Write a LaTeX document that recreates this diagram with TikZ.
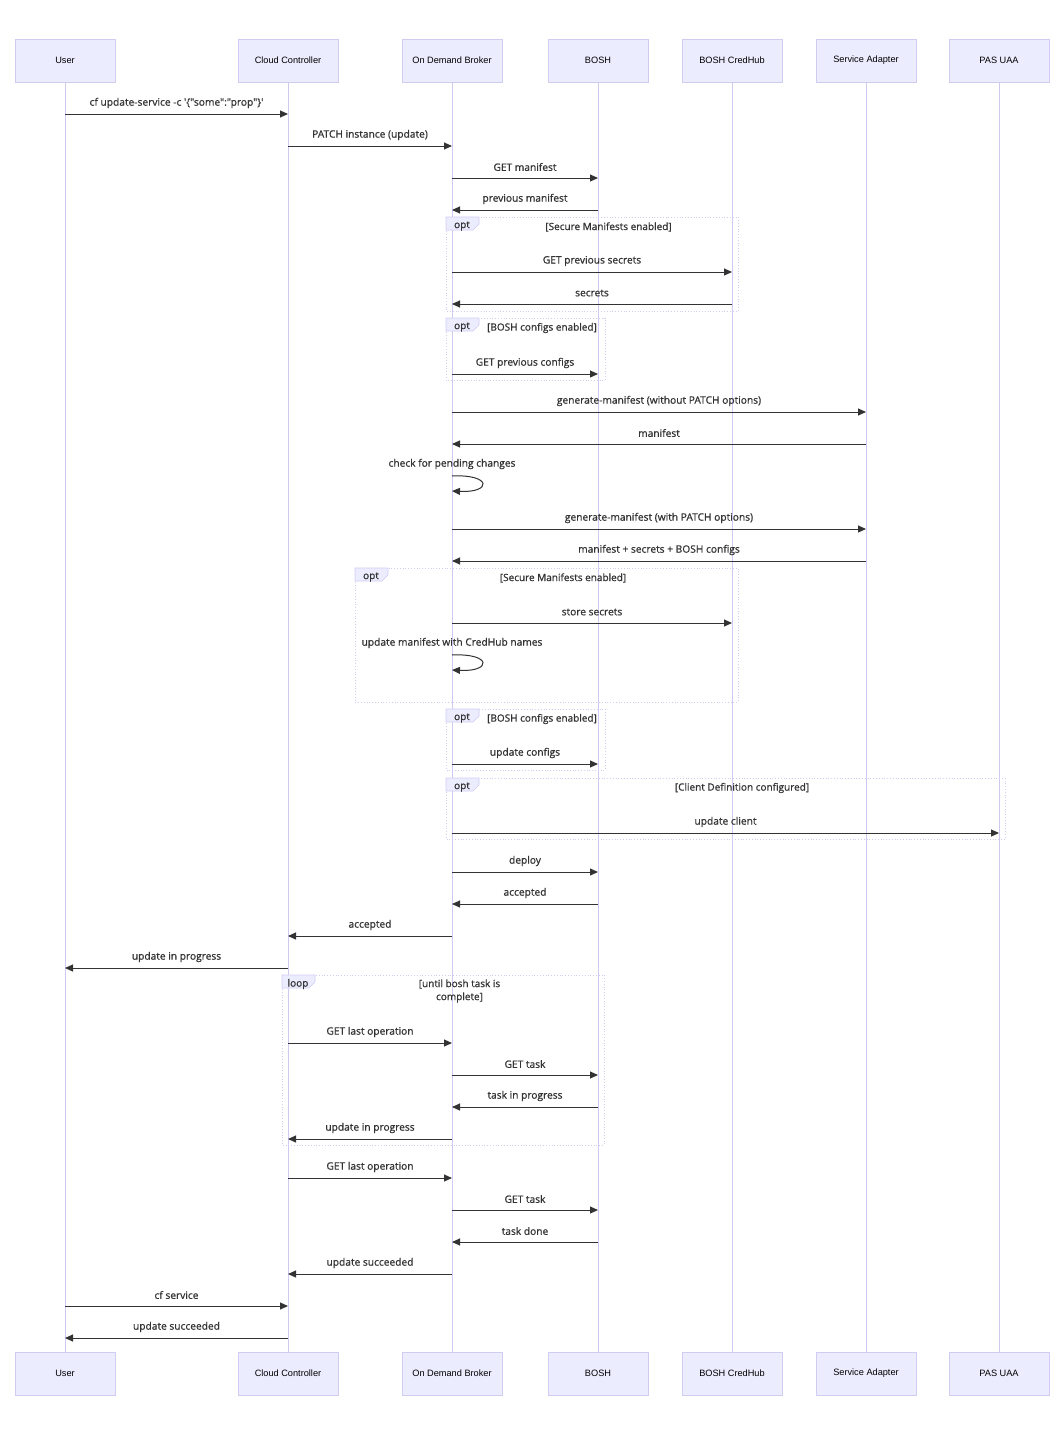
\documentclass[tikz,border=0pt]{standalone}
\usepackage{fontspec}
\setmainfont{Open Sans}
\newfontfamily\actorfont{Liberation Sans}
\newfontfamily\msgfont[FakeBold=0.9]{Open Sans}
\usetikzlibrary{arrows.meta,calc}
\definecolor{actfill}{HTML}{ECECFF}
\definecolor{actline}{HTML}{D2CCF2}
\definecolor{lifecol}{HTML}{D0C9F2}
\definecolor{ink}{HTML}{333333}
\tikzset{
  actor/.style={draw=actline, fill=actfill, line width=0.8pt, minimum width=100pt, minimum height=43pt, inner sep=0pt, font=\actorfont\fontsize{9.2}{11}\selectfont, text=black},
  life/.style={draw=lifecol, line width=1pt},
  msgarrow/.style={draw=ink, line width=1pt, -{Triangle[length=8pt,width=7pt]}},
  msglabel/.style={font=\msgfont\fontsize{10.2}{12}\selectfont, text=ink, inner sep=0pt},
  fragline/.style={draw=actline, line width=0.8pt, dotted},
  tabstyle/.style={draw=actline, fill=actfill, line width=0.6pt},
  fragkind/.style={font=\msgfont\fontsize{10}{12}\selectfont, text=ink, inner sep=0pt},
  fragcond/.style={font=\msgfont\fontsize{10}{13}\selectfont, text=ink, inner sep=0pt, align=center}
}
\newcommand\msg[5]{\draw[msgarrow] (#2 |- 0,#4) -- node[msglabel, midway, yshift=11pt] (#1) {#5} (#3 |- 0,#4);}
\newcommand\selfmsg[4]{%
  \node[msglabel] (#1) at (#2 |- 0,#3) {#4};
  \draw[msgarrow] (#2 |- 0,#3+12) .. controls ($(#2 |- 0,#3+10)+(40,0)$) and ($(#2 |- 0,#3+29)+(40,0)$) .. (#2 |- 0,#3+27);}
\newcommand\frag[8]{%
  \draw[fragline] (#2,#3) rectangle (#4,#5);
  \draw[tabstyle] (#2,#3) -- (#2+33,#3) -- (#2+33,#3+7) -- (#2+27,#3+13) -- (#2,#3+13) -- cycle;
  \node[fragkind] (#1k) at (#2+16,#3+9) {#6};
  \node[fragcond] (#1c) at ({(#2+33+#4)/2},#3+#8) {#7};}
\begin{document}
\begin{tikzpicture}[x=1pt,y=-1pt]
\useasboundingbox (0,0) rectangle (1062,1437);
% actors
\foreach \n/\x/\t in {user/65/User, cc/288/Cloud Controller, odb/452/On Demand Broker, bosh/598/BOSH, ch/732/BOSH CredHub, sa/866/Service Adapter, uaa/999/PAS UAA}{
  \node[actor] (\n) at (\x,60.5) {\t};
  \node[actor] (\n B) at (\x,1373.5) {\t};
  \draw[life] (\n) -- (\n B);
}
% frames
\frag{f1}{446}{217}{738}{311}{opt}{[Secure Manifests enabled]}{10}
\frag{f2}{446}{318}{605}{380}{opt}{[BOSH configs enabled]}{10}
\frag{f3}{355}{568}{738}{702}{opt}{[Secure Manifests enabled]}{10}
\frag{f4}{446}{709}{605}{770}{opt}{[BOSH configs enabled]}{10}
\frag{f5}{446}{778}{1005}{839}{opt}{[Client Definition configured]}{10}
\frag{f6}{282}{975}{604}{1145}{loop}{[until bosh task is\\complete]}{16}
% messages
\msg{m1}{user}{cc}{114}{cf update-service -c '\{"some":"prop"\}'}
\msg{m2}{cc}{odb}{146}{PATCH instance (update)}
\msg{m3}{odb}{bosh}{178}{GET manifest}
\msg{m4}{bosh}{odb}{210}{previous manifest}
\msg{m5}{odb}{ch}{272}{GET previous secrets}
\msg{m6}{ch}{odb}{304}{secrets}
\msg{m7}{odb}{bosh}{374}{GET previous configs}
\msg{m8}{odb}{sa}{412}{generate-manifest (without PATCH options)}
\msg{m9}{sa}{odb}{444}{manifest}
\selfmsg{m10}{odb}{464}{check for pending changes}
\msg{m11}{odb}{sa}{529}{generate-manifest (with PATCH options)}
\msg{m12}{sa}{odb}{561}{manifest + secrets + BOSH configs}
\msg{m13}{odb}{ch}{623}{store secrets}
\selfmsg{m14}{odb}{643}{update manifest with CredHub names}
\msg{m15}{odb}{bosh}{764}{update configs}
\msg{m16}{odb}{uaa}{833}{update client}
\msg{m17}{odb}{bosh}{872}{deploy}
\msg{m18}{bosh}{odb}{904}{accepted}
\msg{m19}{odb}{cc}{936}{accepted}
\msg{m20}{cc}{user}{968}{update in progress}
\msg{m21}{cc}{odb}{1043}{GET last operation}
\msg{m22}{odb}{bosh}{1075}{GET task}
\msg{m23}{bosh}{odb}{1107}{task in progress}
\msg{m24}{odb}{cc}{1139}{update in progress}
\msg{m25}{cc}{odb}{1178}{GET last operation}
\msg{m26}{odb}{bosh}{1210}{GET task}
\msg{m27}{bosh}{odb}{1242}{task done}
\msg{m28}{odb}{cc}{1274}{update succeeded}
\msg{m29}{user}{cc}{1306}{cf service}
\msg{m30}{cc}{user}{1338}{update succeeded}
\end{tikzpicture}
\end{document}
